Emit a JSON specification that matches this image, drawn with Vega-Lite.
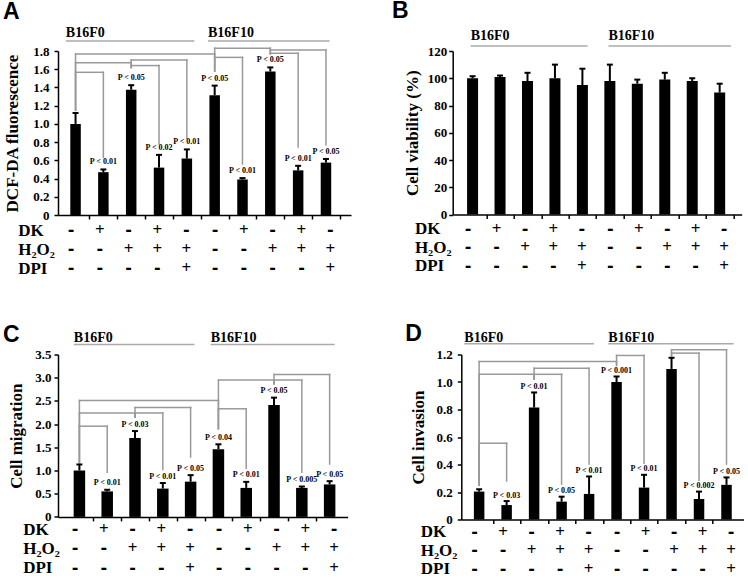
{
"$schema": "https://vega.github.io/schema/vega-lite/v6.json",
"background": "white",
"padding": {"left": 2, "top": 0, "right": 0, "bottom": 0},
"config": {
 "view": {"stroke": null},
 "axis": {"domainColor": "black", "domainWidth": 1.5, "tickColor": "black", "tickWidth": 1.5, "labelColor": "black", "titleColor": "black", "labelFont": "Liberation Serif", "titleFont": "Liberation Serif", "labelFontWeight": "bold", "titleFontWeight": "bold", "labelFontSize": 13, "titleFontSize": 17, "grid": false, "labelOverlap": false},
 "text": {"font": "Liberation Serif", "fontWeight": "bold", "color": "black", "opacity": 1}
},
"datasets": {
 "signs": [
  {"bar":1,"row":"DK","sign":"-"},{"bar":2,"row":"DK","sign":"+"},{"bar":3,"row":"DK","sign":"-"},{"bar":4,"row":"DK","sign":"+"},{"bar":5,"row":"DK","sign":"-"},{"bar":6,"row":"DK","sign":"-"},{"bar":7,"row":"DK","sign":"+"},{"bar":8,"row":"DK","sign":"-"},{"bar":9,"row":"DK","sign":"+"},{"bar":10,"row":"DK","sign":"-"},
  {"bar":1,"row":"H₂O₂","sign":"-"},{"bar":2,"row":"H₂O₂","sign":"-"},{"bar":3,"row":"H₂O₂","sign":"+"},{"bar":4,"row":"H₂O₂","sign":"+"},{"bar":5,"row":"H₂O₂","sign":"+"},{"bar":6,"row":"H₂O₂","sign":"-"},{"bar":7,"row":"H₂O₂","sign":"-"},{"bar":8,"row":"H₂O₂","sign":"+"},{"bar":9,"row":"H₂O₂","sign":"+"},{"bar":10,"row":"H₂O₂","sign":"+"},
  {"bar":1,"row":"DPI","sign":"-"},{"bar":2,"row":"DPI","sign":"-"},{"bar":3,"row":"DPI","sign":"-"},{"bar":4,"row":"DPI","sign":"-"},{"bar":5,"row":"DPI","sign":"+"},{"bar":6,"row":"DPI","sign":"-"},{"bar":7,"row":"DPI","sign":"-"},{"bar":8,"row":"DPI","sign":"-"},{"bar":9,"row":"DPI","sign":"-"},{"bar":10,"row":"DPI","sign":"+"}
 ],
 "barsA": [
  {"bar":1,"value":1.0,"err":1.12,"p":""},
  {"bar":2,"value":0.47,"err":0.5,"p":"P < 0.01"},
  {"bar":3,"value":1.375,"err":1.425,"p":"P < 0.05"},
  {"bar":4,"value":0.52,"err":0.66,"p":"P < 0.02"},
  {"bar":5,"value":0.62,"err":0.72,"p":"P < 0.01"},
  {"bar":6,"value":1.315,"err":1.42,"p":"P < 0.05"},
  {"bar":7,"value":0.39,"err":0.405,"p":"P < 0.01"},
  {"bar":8,"value":1.575,"err":1.62,"p":"P < 0.05"},
  {"bar":9,"value":0.49,"err":0.54,"p":"P < 0.01"},
  {"bar":10,"value":0.575,"err":0.615,"p":"P < 0.05"}
 ],
 "bracketsA": [
  {"from":1,"to":2,"h":1.566,"yFrom":1.15,"yTo":0.633},
  {"from":1,"to":3,"h":1.67,"yFrom":1.15,"yTo":1.62},
  {"from":1,"to":6,"h":1.767,"yFrom":1.15,"yTo":1.58},
  {"from":3,"to":4,"h":1.64,"yFrom":1.62,"yTo":0.78},
  {"from":3,"to":5,"h":1.7,"yFrom":1.62,"yTo":0.84},
  {"from":6,"to":7,"h":1.73,"yFrom":1.58,"yTo":0.56},
  {"from":6,"to":8,"h":1.83,"yFrom":1.58,"yTo":1.77},
  {"from":8,"to":9,"h":1.775,"yFrom":1.77,"yTo":0.745},
  {"from":8,"to":10,"h":1.81,"yFrom":1.77,"yTo":0.77}
 ],
 "groupsA": [{"label":"B16F0","x1":0.65,"x2":5.27},{"label":"B16F10","x1":5.76,"x2":10.13}],
 "barsB": [
  {"bar":1,"value":100,"err":101.5},
  {"bar":2,"value":101,"err":102},
  {"bar":3,"value":98,"err":104},
  {"bar":4,"value":100,"err":110},
  {"bar":5,"value":95,"err":107},
  {"bar":6,"value":98,"err":110},
  {"bar":7,"value":96,"err":99},
  {"bar":8,"value":99,"err":104},
  {"bar":9,"value":98,"err":100},
  {"bar":10,"value":89.5,"err":96}
 ],
 "groupsB": [{"label":"B16F0","x1":0.93,"x2":5.19},{"label":"B16F10","x1":5.95,"x2":10.41}],
 "barsC": [
  {"bar":1,"value":1.0,"err":1.13,"p":""},
  {"bar":2,"value":0.55,"err":0.585,"p":"P < 0.01"},
  {"bar":3,"value":1.7,"err":1.85,"p":"P < 0.03"},
  {"bar":4,"value":0.61,"err":0.73,"p":"P < 0.01"},
  {"bar":5,"value":0.76,"err":0.9,"p":"P < 0.05"},
  {"bar":6,"value":1.46,"err":1.565,"p":"P < 0.04"},
  {"bar":7,"value":0.625,"err":0.755,"p":"P < 0.01"},
  {"bar":8,"value":2.41,"err":2.57,"p":"P < 0.05"},
  {"bar":9,"value":0.625,"err":0.655,"p":"P < 0.005"},
  {"bar":10,"value":0.7,"err":0.77,"p":"P < 0.05"}
 ],
 "bracketsC": [
  {"from":1,"to":2,"h":1.955,"yFrom":1.17,"yTo":0.96},
  {"from":1,"to":3,"h":2.24,"yFrom":1.17,"yTo":2.15},
  {"from":3,"to":4,"h":2.24,"yFrom":2.15,"yTo":1.02},
  {"from":3,"to":5,"h":2.36,"yFrom":2.15,"yTo":1.29},
  {"from":1,"to":6,"h":2.51,"yFrom":1.17,"yTo":1.9},
  {"from":6,"to":7,"h":2.33,"yFrom":1.9,"yTo":1.05},
  {"from":6,"to":8,"h":2.95,"yFrom":1.9,"yTo":2.87},
  {"from":8,"to":9,"h":2.95,"yFrom":2.87,"yTo":0.96},
  {"from":8,"to":10,"h":3.07,"yFrom":2.87,"yTo":1.14}
 ],
 "groupsC": [{"label":"B16F0","x1":0.8,"x2":5.14},{"label":"B16F10","x1":5.72,"x2":10.18}],
 "barsD": [
  {"bar":1,"value":0.203,"err":0.22,"p":""},
  {"bar":2,"value":0.105,"err":0.134,"p":"P < 0.03"},
  {"bar":3,"value":0.814,"err":0.924,"p":"P < 0.01"},
  {"bar":4,"value":0.13,"err":0.166,"p":"P < 0.05"},
  {"bar":5,"value":0.186,"err":0.313,"p":"P < 0.01"},
  {"bar":6,"value":1.0,"err":1.04,"p":"P < 0.001"},
  {"bar":7,"value":0.232,"err":0.325,"p":"P < 0.01"},
  {"bar":8,"value":1.095,"err":1.176,"p":""},
  {"bar":9,"value":0.149,"err":0.203,"p":"P < 0.002"},
  {"bar":10,"value":0.252,"err":0.306,"p":"P < 0.05"}
 ],
 "bracketsD": [
  {"from":1,"to":2,"h":0.555,"yFrom":0.25,"yTo":0.281},
  {"from":1,"to":3,"h":1.056,"yFrom":0.25,"yTo":1.02},
  {"from":3,"to":4,"h":1.056,"yFrom":1.02,"yTo":0.257},
  {"from":3,"to":5,"h":1.1,"yFrom":1.02,"yTo":0.403},
  {"from":1,"to":6,"h":1.149,"yFrom":0.25,"yTo":1.12},
  {"from":6,"to":7,"h":1.193,"yFrom":1.12,"yTo":0.41},
  {"from":8,"to":9,"h":1.21,"yFrom":1.19,"yTo":0.285},
  {"from":8,"to":10,"h":1.234,"yFrom":1.19,"yTo":0.403}
 ],
 "groupsD": [{"label":"B16F0","x1":0.46,"x2":5.18},{"label":"B16F10","x1":5.7,"x2":10.26}]
},
"columns": 1,
"align": "none",
"bounds": "full",
"spacing": 44.5,
"concat": [
 {"hconcat": [
  {"title": {"text": "A", "anchor": "start", "frame": "group", "font": "Liberation Sans", "fontSize": 23, "fontWeight": "bold", "color": "black", "offset": 2, "dx": -55},
   "bounds": "flush",
   "spacing": 5.5,
   "vconcat": [
    {"width": 293, "height": 164,
     "layer": [
      {"data": {"name": "barsA"}, "mark": {"type": "bar", "color": "black", "size": 10.5, "opacity": 1},
       "encoding": {"x": {"field": "bar", "type": "quantitative", "scale": {"domain": [0.549, 10.72], "nice": false, "zero": false}, "axis": {"values": [1.5,2.5,3.5,4.5,5.5,6.5,7.5,8.5,9.5,10.5], "labels": false, "tickSize": 4, "title": null}},
                    "y": {"field": "value", "type": "quantitative", "scale": {"domain": [0, 1.8], "nice": false}, "axis": {"values": [0,0.2,0.4,0.6,0.8,1,1.2,1.4,1.6,1.8], "labelExpr": "datum.value == 0 ? '0' : format(datum.value, '.1f')", "labelOverlap": false, "labelPadding": 5, "tickSize": 4, "title": "DCF-DA fluorescence", "titlePadding": 11.75}}}},
      {"data": {"name": "bracketsA"}, "mark": {"type": "rule", "color": "#999", "strokeWidth": 1.5, "strokeCap": "square"},
       "encoding": {"x": {"field": "from", "type": "quantitative", "scale": {"domain": [0.549, 10.72], "nice": false, "zero": false}, "axis": {"values": [1.5,2.5,3.5,4.5,5.5,6.5,7.5,8.5,9.5,10.5], "labels": false, "tickSize": 4, "title": null}},
                    "y": {"field": "yFrom", "type": "quantitative", "scale": {"domain": [0, 1.8], "nice": false}, "axis": {"values": [0,0.2,0.4,0.6,0.8,1,1.2,1.4,1.6,1.8], "labelExpr": "datum.value == 0 ? '0' : format(datum.value, '.1f')", "labelOverlap": false, "labelPadding": 5, "tickSize": 4, "title": "DCF-DA fluorescence", "titlePadding": 11.75}}, "y2": {"field": "h"}}},
      {"data": {"name": "bracketsA"}, "mark": {"type": "rule", "color": "#999", "strokeWidth": 1.5, "strokeCap": "square"},
       "encoding": {"x": {"field": "from", "type": "quantitative", "scale": {"domain": [0.549, 10.72], "nice": false, "zero": false}, "axis": {"values": [1.5,2.5,3.5,4.5,5.5,6.5,7.5,8.5,9.5,10.5], "labels": false, "tickSize": 4, "title": null}}, "x2": {"field": "to"},
                    "y": {"field": "h", "type": "quantitative", "scale": {"domain": [0, 1.8], "nice": false}, "axis": {"values": [0,0.2,0.4,0.6,0.8,1,1.2,1.4,1.6,1.8], "labelExpr": "datum.value == 0 ? '0' : format(datum.value, '.1f')", "labelOverlap": false, "labelPadding": 5, "tickSize": 4, "title": "DCF-DA fluorescence", "titlePadding": 11.75}}}},
      {"data": {"name": "bracketsA"}, "mark": {"type": "rule", "color": "#999", "strokeWidth": 1.5, "strokeCap": "square"},
       "encoding": {"x": {"field": "to", "type": "quantitative", "scale": {"domain": [0.549, 10.72], "nice": false, "zero": false}, "axis": {"values": [1.5,2.5,3.5,4.5,5.5,6.5,7.5,8.5,9.5,10.5], "labels": false, "tickSize": 4, "title": null}},
                    "y": {"field": "h", "type": "quantitative", "scale": {"domain": [0, 1.8], "nice": false}, "axis": {"values": [0,0.2,0.4,0.6,0.8,1,1.2,1.4,1.6,1.8], "labelExpr": "datum.value == 0 ? '0' : format(datum.value, '.1f')", "labelOverlap": false, "labelPadding": 5, "tickSize": 4, "title": "DCF-DA fluorescence", "titlePadding": 11.75}}, "y2": {"field": "yTo"}}},
      {"data": {"name": "groupsA"}, "mark": {"type": "rule", "color": "#aaa", "strokeWidth": 1.5},
       "encoding": {"x": {"field": "x1", "type": "quantitative", "scale": {"domain": [0.549, 10.72], "nice": false, "zero": false}, "axis": {"values": [1.5,2.5,3.5,4.5,5.5,6.5,7.5,8.5,9.5,10.5], "labels": false, "tickSize": 4, "title": null}}, "x2": {"field": "x2"},
                    "y": {"datum": 1.91, "type": "quantitative", "scale": {"domain": [0, 1.8], "nice": false}, "axis": {"values": [0,0.2,0.4,0.6,0.8,1,1.2,1.4,1.6,1.8], "labelExpr": "datum.value == 0 ? '0' : format(datum.value, '.1f')", "labelOverlap": false, "labelPadding": 5, "tickSize": 4, "title": "DCF-DA fluorescence", "titlePadding": 11.75}}}},
      {"data": {"name": "groupsA"}, "mark": {"type": "text", "align": "left", "baseline": "alphabetic", "dy": -4.4, "fontSize": 14},
       "encoding": {"x": {"field": "x1", "type": "quantitative", "scale": {"domain": [0.549, 10.72], "nice": false, "zero": false}, "axis": {"values": [1.5,2.5,3.5,4.5,5.5,6.5,7.5,8.5,9.5,10.5], "labels": false, "tickSize": 4, "title": null}},
                    "y": {"datum": 1.91, "type": "quantitative", "scale": {"domain": [0, 1.8], "nice": false}, "axis": {"values": [0,0.2,0.4,0.6,0.8,1,1.2,1.4,1.6,1.8], "labelExpr": "datum.value == 0 ? '0' : format(datum.value, '.1f')", "labelOverlap": false, "labelPadding": 5, "tickSize": 4, "title": "DCF-DA fluorescence", "titlePadding": 11.75}}, "text": {"field": "label"}}},
      {"data": {"name": "barsA"}, "mark": {"type": "rule", "color": "black", "strokeWidth": 2},
       "encoding": {"x": {"field": "bar", "type": "quantitative", "scale": {"domain": [0.549, 10.72], "nice": false, "zero": false}, "axis": {"values": [1.5,2.5,3.5,4.5,5.5,6.5,7.5,8.5,9.5,10.5], "labels": false, "tickSize": 4, "title": null}},
                    "y": {"field": "value", "type": "quantitative", "scale": {"domain": [0, 1.8], "nice": false}, "axis": {"values": [0,0.2,0.4,0.6,0.8,1,1.2,1.4,1.6,1.8], "labelExpr": "datum.value == 0 ? '0' : format(datum.value, '.1f')", "labelOverlap": false, "labelPadding": 5, "tickSize": 4, "title": "DCF-DA fluorescence", "titlePadding": 11.75}}, "y2": {"field": "err"}}},
      {"data": {"name": "barsA"}, "mark": {"type": "tick", "orient": "horizontal", "color": "black", "size": 6, "thickness": 2, "opacity": 1},
       "encoding": {"x": {"field": "bar", "type": "quantitative", "scale": {"domain": [0.549, 10.72], "nice": false, "zero": false}, "axis": {"values": [1.5,2.5,3.5,4.5,5.5,6.5,7.5,8.5,9.5,10.5], "labels": false, "tickSize": 4, "title": null}},
                    "y": {"field": "err", "type": "quantitative", "scale": {"domain": [0, 1.8], "nice": false}, "axis": {"values": [0,0.2,0.4,0.6,0.8,1,1.2,1.4,1.6,1.8], "labelExpr": "datum.value == 0 ? '0' : format(datum.value, '.1f')", "labelOverlap": false, "labelPadding": 5, "tickSize": 4, "title": "DCF-DA fluorescence", "titlePadding": 11.75}}}},
      {"data": {"name": "barsA"}, "transform": [{"filter": "datum.p != ''"}], "mark": {"type": "text", "baseline": "alphabetic", "dy": -5, "fontSize": 8},
       "encoding": {"x": {"field": "bar", "type": "quantitative", "scale": {"domain": [0.549, 10.72], "nice": false, "zero": false}, "axis": {"values": [1.5,2.5,3.5,4.5,5.5,6.5,7.5,8.5,9.5,10.5], "labels": false, "tickSize": 4, "title": null}},
                    "y": {"field": "err", "type": "quantitative", "scale": {"domain": [0, 1.8], "nice": false}, "axis": {"values": [0,0.2,0.4,0.6,0.8,1,1.2,1.4,1.6,1.8], "labelExpr": "datum.value == 0 ? '0' : format(datum.value, '.1f')", "labelOverlap": false, "labelPadding": 5, "tickSize": 4, "title": "DCF-DA fluorescence", "titlePadding": 11.75}}, "text": {"field": "p"}}}
     ]},
    {"width": 293, "height": 57, "data": {"name": "signs"},
     "layer": [
      {"transform": [{"filter": "datum.sign == '+'"}], "mark": {"type": "text", "baseline": "middle", "fontSize": 17},
       "encoding": {"x": {"field": "bar", "type": "quantitative", "scale": {"domain": [0.549, 10.72], "nice": false, "zero": false}, "axis": null},
                    "y": {"field": "row", "type": "nominal", "sort": ["DK", "H₂O₂", "DPI"], "axis": {"title": null, "domain": false, "ticks": false, "tickSize": 0, "labelAlign": "left", "labelBaseline": "middle", "labelPadding": 40.3, "labelFontSize": 17}},
                    "text": {"field": "sign"}}},
      {"transform": [{"filter": "datum.sign == '-'"}], "mark": {"type": "text", "baseline": "middle", "fontSize": 16, "font": "DejaVu Sans", "fontWeight": "bold"},
       "encoding": {"x": {"field": "bar", "type": "quantitative", "scale": {"domain": [0.549, 10.72], "nice": false, "zero": false}, "axis": null},
                    "y": {"field": "row", "type": "nominal", "sort": ["DK", "H₂O₂", "DPI"], "axis": {"title": null, "domain": false, "ticks": false, "tickSize": 0, "labelAlign": "left", "labelBaseline": "middle", "labelPadding": 40.3, "labelFontSize": 17}},
                    "text": {"field": "sign"}}}
     ]}
   ]},
  {"title": {"text": "B", "anchor": "start", "frame": "group", "font": "Liberation Sans", "fontSize": 23, "fontWeight": "bold", "color": "black", "offset": 5.5, "dx": -60.6},
   "bounds": "flush",
   "spacing": 4.25,
   "vconcat": [
    {"width": 289, "height": 163.5,
     "layer": [
      {"data": {"name": "barsB"}, "mark": {"type": "bar", "color": "black", "size": 11, "opacity": 1},
       "encoding": {"x": {"field": "bar", "type": "quantitative", "scale": {"domain": [0.458, 10.62], "nice": false, "zero": false}, "axis": {"values": [1.5,2.5,3.5,4.5,5.5,6.5,7.5,8.5,9.5,10.5], "labels": false, "tickSize": 4, "title": null}},
                    "y": {"field": "value", "type": "quantitative", "scale": {"domain": [0, 120], "nice": false}, "axis": {"values": [0,20,40,60,80,100,120], "labelOverlap": false, "labelPadding": 2, "tickSize": 4, "title": "Cell viability (%)", "titlePadding": 5.5}}}},
      {"data": {"name": "groupsB"}, "mark": {"type": "rule", "color": "#aaa", "strokeWidth": 1.5},
       "encoding": {"x": {"field": "x1", "type": "quantitative", "scale": {"domain": [0.458, 10.62], "nice": false, "zero": false}, "axis": {"values": [1.5,2.5,3.5,4.5,5.5,6.5,7.5,8.5,9.5,10.5], "labels": false, "tickSize": 4, "title": null}}, "x2": {"field": "x2"},
                    "y": {"datum": 123.7, "type": "quantitative", "scale": {"domain": [0, 120], "nice": false}, "axis": {"values": [0,20,40,60,80,100,120], "labelOverlap": false, "labelPadding": 2, "tickSize": 4, "title": "Cell viability (%)", "titlePadding": 5.5}}}},
      {"data": {"name": "groupsB"}, "mark": {"type": "text", "align": "left", "baseline": "alphabetic", "dy": -6, "fontSize": 14},
       "encoding": {"x": {"field": "x1", "type": "quantitative", "scale": {"domain": [0.458, 10.62], "nice": false, "zero": false}, "axis": {"values": [1.5,2.5,3.5,4.5,5.5,6.5,7.5,8.5,9.5,10.5], "labels": false, "tickSize": 4, "title": null}},
                    "y": {"datum": 123.7, "type": "quantitative", "scale": {"domain": [0, 120], "nice": false}, "axis": {"values": [0,20,40,60,80,100,120], "labelOverlap": false, "labelPadding": 2, "tickSize": 4, "title": "Cell viability (%)", "titlePadding": 5.5}}, "text": {"field": "label"}}},
      {"data": {"name": "barsB"}, "mark": {"type": "rule", "color": "black", "strokeWidth": 2},
       "encoding": {"x": {"field": "bar", "type": "quantitative", "scale": {"domain": [0.458, 10.62], "nice": false, "zero": false}, "axis": {"values": [1.5,2.5,3.5,4.5,5.5,6.5,7.5,8.5,9.5,10.5], "labels": false, "tickSize": 4, "title": null}},
                    "y": {"field": "value", "type": "quantitative", "scale": {"domain": [0, 120], "nice": false}, "axis": {"values": [0,20,40,60,80,100,120], "labelOverlap": false, "labelPadding": 2, "tickSize": 4, "title": "Cell viability (%)", "titlePadding": 5.5}}, "y2": {"field": "err"}}},
      {"data": {"name": "barsB"}, "mark": {"type": "tick", "orient": "horizontal", "color": "black", "size": 6, "thickness": 2, "opacity": 1},
       "encoding": {"x": {"field": "bar", "type": "quantitative", "scale": {"domain": [0.458, 10.62], "nice": false, "zero": false}, "axis": {"values": [1.5,2.5,3.5,4.5,5.5,6.5,7.5,8.5,9.5,10.5], "labels": false, "tickSize": 4, "title": null}},
                    "y": {"field": "err", "type": "quantitative", "scale": {"domain": [0, 120], "nice": false}, "axis": {"values": [0,20,40,60,80,100,120], "labelOverlap": false, "labelPadding": 2, "tickSize": 4, "title": "Cell viability (%)", "titlePadding": 5.5}}}}
     ]},
    {"width": 289, "height": 55.5, "data": {"name": "signs"},
     "layer": [
      {"transform": [{"filter": "datum.sign == '+'"}], "mark": {"type": "text", "baseline": "middle", "fontSize": 17},
       "encoding": {"x": {"field": "bar", "type": "quantitative", "scale": {"domain": [0.458, 10.62], "nice": false, "zero": false}, "axis": null},
                    "y": {"field": "row", "type": "nominal", "sort": ["DK", "H₂O₂", "DPI"], "axis": {"title": null, "domain": false, "ticks": false, "tickSize": 0, "labelAlign": "left", "labelBaseline": "middle", "labelPadding": 38.3, "labelFontSize": 17}},
                    "text": {"field": "sign"}}},
      {"transform": [{"filter": "datum.sign == '-'"}], "mark": {"type": "text", "baseline": "middle", "fontSize": 16, "font": "DejaVu Sans", "fontWeight": "bold"},
       "encoding": {"x": {"field": "bar", "type": "quantitative", "scale": {"domain": [0.458, 10.62], "nice": false, "zero": false}, "axis": null},
                    "y": {"field": "row", "type": "nominal", "sort": ["DK", "H₂O₂", "DPI"], "axis": {"title": null, "domain": false, "ticks": false, "tickSize": 0, "labelAlign": "left", "labelBaseline": "middle", "labelPadding": 38.3, "labelFontSize": 17}},
                    "text": {"field": "sign"}}}
     ]}
   ]}
 ], "spacing": 40.7},
 {"hconcat": [
  {"title": {"text": "C", "anchor": "start", "frame": "group", "font": "Liberation Sans", "fontSize": 23, "fontWeight": "bold", "color": "black", "offset": 2, "dx": -55, "dy": 17.7},
   "bounds": "flush",
   "spacing": 1.9,
   "vconcat": [
    {"width": 289.7, "height": 162.4,
     "layer": [
      {"data": {"name": "barsC"}, "mark": {"type": "bar", "color": "black", "size": 11.5, "opacity": 1},
       "encoding": {"x": {"field": "bar", "type": "quantitative", "scale": {"domain": [0.41, 10.47], "nice": false, "zero": false}, "axis": {"values": [1.5,2.5,3.5,4.5,5.5,6.5,7.5,8.5,9.5], "labels": false, "tickSize": 4, "title": null}},
                    "y": {"field": "value", "type": "quantitative", "scale": {"domain": [0, 3.5], "nice": false}, "axis": {"values": [0,0.5,1,1.5,2,2.5,3,3.5], "labelExpr": "datum.value == 0 ? '0' : format(datum.value, '.1f')", "labelOverlap": false, "labelPadding": 3, "tickSize": 4, "title": "Cell migration", "titlePadding": 9.75}}}},
      {"data": {"name": "bracketsC"}, "mark": {"type": "rule", "color": "#999", "strokeWidth": 1.5, "strokeCap": "square"},
       "encoding": {"x": {"field": "from", "type": "quantitative", "scale": {"domain": [0.41, 10.47], "nice": false, "zero": false}, "axis": {"values": [1.5,2.5,3.5,4.5,5.5,6.5,7.5,8.5,9.5], "labels": false, "tickSize": 4, "title": null}},
                    "y": {"field": "yFrom", "type": "quantitative", "scale": {"domain": [0, 3.5], "nice": false}, "axis": {"values": [0,0.5,1,1.5,2,2.5,3,3.5], "labelExpr": "datum.value == 0 ? '0' : format(datum.value, '.1f')", "labelOverlap": false, "labelPadding": 3, "tickSize": 4, "title": "Cell migration", "titlePadding": 9.75}}, "y2": {"field": "h"}}},
      {"data": {"name": "bracketsC"}, "mark": {"type": "rule", "color": "#999", "strokeWidth": 1.5, "strokeCap": "square"},
       "encoding": {"x": {"field": "from", "type": "quantitative", "scale": {"domain": [0.41, 10.47], "nice": false, "zero": false}, "axis": {"values": [1.5,2.5,3.5,4.5,5.5,6.5,7.5,8.5,9.5], "labels": false, "tickSize": 4, "title": null}}, "x2": {"field": "to"},
                    "y": {"field": "h", "type": "quantitative", "scale": {"domain": [0, 3.5], "nice": false}, "axis": {"values": [0,0.5,1,1.5,2,2.5,3,3.5], "labelExpr": "datum.value == 0 ? '0' : format(datum.value, '.1f')", "labelOverlap": false, "labelPadding": 3, "tickSize": 4, "title": "Cell migration", "titlePadding": 9.75}}}},
      {"data": {"name": "bracketsC"}, "mark": {"type": "rule", "color": "#999", "strokeWidth": 1.5, "strokeCap": "square"},
       "encoding": {"x": {"field": "to", "type": "quantitative", "scale": {"domain": [0.41, 10.47], "nice": false, "zero": false}, "axis": {"values": [1.5,2.5,3.5,4.5,5.5,6.5,7.5,8.5,9.5], "labels": false, "tickSize": 4, "title": null}},
                    "y": {"field": "h", "type": "quantitative", "scale": {"domain": [0, 3.5], "nice": false}, "axis": {"values": [0,0.5,1,1.5,2,2.5,3,3.5], "labelExpr": "datum.value == 0 ? '0' : format(datum.value, '.1f')", "labelOverlap": false, "labelPadding": 3, "tickSize": 4, "title": "Cell migration", "titlePadding": 9.75}}, "y2": {"field": "yTo"}}},
      {"data": {"name": "groupsC"}, "mark": {"type": "rule", "color": "#aaa", "strokeWidth": 1.5},
       "encoding": {"x": {"field": "x1", "type": "quantitative", "scale": {"domain": [0.41, 10.47], "nice": false, "zero": false}, "axis": {"values": [1.5,2.5,3.5,4.5,5.5,6.5,7.5,8.5,9.5], "labels": false, "tickSize": 4, "title": null}}, "x2": {"field": "x2"},
                    "y": {"datum": 3.716, "type": "quantitative", "scale": {"domain": [0, 3.5], "nice": false}, "axis": {"values": [0,0.5,1,1.5,2,2.5,3,3.5], "labelExpr": "datum.value == 0 ? '0' : format(datum.value, '.1f')", "labelOverlap": false, "labelPadding": 3, "tickSize": 4, "title": "Cell migration", "titlePadding": 9.75}}}},
      {"data": {"name": "groupsC"}, "mark": {"type": "text", "align": "left", "baseline": "alphabetic", "dy": -2, "fontSize": 14},
       "encoding": {"x": {"field": "x1", "type": "quantitative", "scale": {"domain": [0.41, 10.47], "nice": false, "zero": false}, "axis": {"values": [1.5,2.5,3.5,4.5,5.5,6.5,7.5,8.5,9.5], "labels": false, "tickSize": 4, "title": null}},
                    "y": {"datum": 3.716, "type": "quantitative", "scale": {"domain": [0, 3.5], "nice": false}, "axis": {"values": [0,0.5,1,1.5,2,2.5,3,3.5], "labelExpr": "datum.value == 0 ? '0' : format(datum.value, '.1f')", "labelOverlap": false, "labelPadding": 3, "tickSize": 4, "title": "Cell migration", "titlePadding": 9.75}}, "text": {"field": "label"}}},
      {"data": {"name": "barsC"}, "mark": {"type": "rule", "color": "black", "strokeWidth": 2},
       "encoding": {"x": {"field": "bar", "type": "quantitative", "scale": {"domain": [0.41, 10.47], "nice": false, "zero": false}, "axis": {"values": [1.5,2.5,3.5,4.5,5.5,6.5,7.5,8.5,9.5], "labels": false, "tickSize": 4, "title": null}},
                    "y": {"field": "value", "type": "quantitative", "scale": {"domain": [0, 3.5], "nice": false}, "axis": {"values": [0,0.5,1,1.5,2,2.5,3,3.5], "labelExpr": "datum.value == 0 ? '0' : format(datum.value, '.1f')", "labelOverlap": false, "labelPadding": 3, "tickSize": 4, "title": "Cell migration", "titlePadding": 9.75}}, "y2": {"field": "err"}}},
      {"data": {"name": "barsC"}, "mark": {"type": "tick", "orient": "horizontal", "color": "black", "size": 6, "thickness": 2, "opacity": 1},
       "encoding": {"x": {"field": "bar", "type": "quantitative", "scale": {"domain": [0.41, 10.47], "nice": false, "zero": false}, "axis": {"values": [1.5,2.5,3.5,4.5,5.5,6.5,7.5,8.5,9.5], "labels": false, "tickSize": 4, "title": null}},
                    "y": {"field": "err", "type": "quantitative", "scale": {"domain": [0, 3.5], "nice": false}, "axis": {"values": [0,0.5,1,1.5,2,2.5,3,3.5], "labelExpr": "datum.value == 0 ? '0' : format(datum.value, '.1f')", "labelOverlap": false, "labelPadding": 3, "tickSize": 4, "title": "Cell migration", "titlePadding": 9.75}}}},
      {"data": {"name": "barsC"}, "transform": [{"filter": "datum.p != ''"}], "mark": {"type": "text", "baseline": "alphabetic", "dy": -4.5, "fontSize": 8},
       "encoding": {"x": {"field": "bar", "type": "quantitative", "scale": {"domain": [0.41, 10.47], "nice": false, "zero": false}, "axis": {"values": [1.5,2.5,3.5,4.5,5.5,6.5,7.5,8.5,9.5], "labels": false, "tickSize": 4, "title": null}},
                    "y": {"field": "err", "type": "quantitative", "scale": {"domain": [0, 3.5], "nice": false}, "axis": {"values": [0,0.5,1,1.5,2,2.5,3,3.5], "labelExpr": "datum.value == 0 ? '0' : format(datum.value, '.1f')", "labelOverlap": false, "labelPadding": 3, "tickSize": 4, "title": "Cell migration", "titlePadding": 9.75}}, "text": {"field": "p"}}}
     ]},
    {"width": 289.7, "height": 58, "data": {"name": "signs"},
     "layer": [
      {"transform": [{"filter": "datum.sign == '+'"}], "mark": {"type": "text", "baseline": "middle", "fontSize": 17},
       "encoding": {"x": {"field": "bar", "type": "quantitative", "scale": {"domain": [0.41, 10.47], "nice": false, "zero": false}, "axis": null},
                    "y": {"field": "row", "type": "nominal", "sort": ["DK", "H₂O₂", "DPI"], "axis": {"title": null, "domain": false, "ticks": false, "tickSize": 0, "labelAlign": "left", "labelBaseline": "middle", "labelPadding": 35.3, "labelFontSize": 17}},
                    "text": {"field": "sign"}}},
      {"transform": [{"filter": "datum.sign == '-'"}], "mark": {"type": "text", "baseline": "middle", "fontSize": 16, "font": "DejaVu Sans", "fontWeight": "bold"},
       "encoding": {"x": {"field": "bar", "type": "quantitative", "scale": {"domain": [0.41, 10.47], "nice": false, "zero": false}, "axis": null},
                    "y": {"field": "row", "type": "nominal", "sort": ["DK", "H₂O₂", "DPI"], "axis": {"title": null, "domain": false, "ticks": false, "tickSize": 0, "labelAlign": "left", "labelBaseline": "middle", "labelPadding": 35.3, "labelFontSize": 17}},
                    "text": {"field": "sign"}}}
     ]}
   ]},
  {"title": {"text": "D", "anchor": "start", "frame": "group", "font": "Liberation Sans", "fontSize": 23, "fontWeight": "bold", "color": "black", "offset": 2, "dx": -56, "dy": 17.7},
   "bounds": "flush",
   "spacing": 3.15,
   "vconcat": [
    {"width": 282.3, "height": 165,
     "layer": [
      {"data": {"name": "barsD"}, "mark": {"type": "bar", "color": "black", "size": 10.5, "opacity": 1},
       "encoding": {"x": {"field": "bar", "type": "quantitative", "scale": {"domain": [0.533, 10.44], "nice": false, "zero": false}, "axis": {"values": [1.5,2.5,3.5,4.5,5.5,6.5,7.5,8.5,9.5], "labels": false, "tickSize": 4, "title": null}},
                    "y": {"field": "value", "type": "quantitative", "scale": {"domain": [0, 1.2], "nice": false}, "axis": {"values": [0,0.2,0.4,0.6,0.8,1,1.2], "labelExpr": "datum.value == 0 ? '0' : format(datum.value, '.1f')", "labelOverlap": false, "labelPadding": 5, "tickSize": 4, "title": "Cell invasion", "titlePadding": 8.5}}}},
      {"data": {"name": "bracketsD"}, "mark": {"type": "rule", "color": "#999", "strokeWidth": 1.5, "strokeCap": "square"},
       "encoding": {"x": {"field": "from", "type": "quantitative", "scale": {"domain": [0.533, 10.44], "nice": false, "zero": false}, "axis": {"values": [1.5,2.5,3.5,4.5,5.5,6.5,7.5,8.5,9.5], "labels": false, "tickSize": 4, "title": null}},
                    "y": {"field": "yFrom", "type": "quantitative", "scale": {"domain": [0, 1.2], "nice": false}, "axis": {"values": [0,0.2,0.4,0.6,0.8,1,1.2], "labelExpr": "datum.value == 0 ? '0' : format(datum.value, '.1f')", "labelOverlap": false, "labelPadding": 5, "tickSize": 4, "title": "Cell invasion", "titlePadding": 8.5}}, "y2": {"field": "h"}}},
      {"data": {"name": "bracketsD"}, "mark": {"type": "rule", "color": "#999", "strokeWidth": 1.5, "strokeCap": "square"},
       "encoding": {"x": {"field": "from", "type": "quantitative", "scale": {"domain": [0.533, 10.44], "nice": false, "zero": false}, "axis": {"values": [1.5,2.5,3.5,4.5,5.5,6.5,7.5,8.5,9.5], "labels": false, "tickSize": 4, "title": null}}, "x2": {"field": "to"},
                    "y": {"field": "h", "type": "quantitative", "scale": {"domain": [0, 1.2], "nice": false}, "axis": {"values": [0,0.2,0.4,0.6,0.8,1,1.2], "labelExpr": "datum.value == 0 ? '0' : format(datum.value, '.1f')", "labelOverlap": false, "labelPadding": 5, "tickSize": 4, "title": "Cell invasion", "titlePadding": 8.5}}}},
      {"data": {"name": "bracketsD"}, "mark": {"type": "rule", "color": "#999", "strokeWidth": 1.5, "strokeCap": "square"},
       "encoding": {"x": {"field": "to", "type": "quantitative", "scale": {"domain": [0.533, 10.44], "nice": false, "zero": false}, "axis": {"values": [1.5,2.5,3.5,4.5,5.5,6.5,7.5,8.5,9.5], "labels": false, "tickSize": 4, "title": null}},
                    "y": {"field": "h", "type": "quantitative", "scale": {"domain": [0, 1.2], "nice": false}, "axis": {"values": [0,0.2,0.4,0.6,0.8,1,1.2], "labelExpr": "datum.value == 0 ? '0' : format(datum.value, '.1f')", "labelOverlap": false, "labelPadding": 5, "tickSize": 4, "title": "Cell invasion", "titlePadding": 8.5}}, "y2": {"field": "yTo"}}},
      {"data": {"name": "groupsD"}, "mark": {"type": "rule", "color": "#aaa", "strokeWidth": 1.5},
       "encoding": {"x": {"field": "x1", "type": "quantitative", "scale": {"domain": [0.533, 10.44], "nice": false, "zero": false}, "axis": {"values": [1.5,2.5,3.5,4.5,5.5,6.5,7.5,8.5,9.5], "labels": false, "tickSize": 4, "title": null}}, "x2": {"field": "x2"},
                    "y": {"datum": 1.278, "type": "quantitative", "scale": {"domain": [0, 1.2], "nice": false}, "axis": {"values": [0,0.2,0.4,0.6,0.8,1,1.2], "labelExpr": "datum.value == 0 ? '0' : format(datum.value, '.1f')", "labelOverlap": false, "labelPadding": 5, "tickSize": 4, "title": "Cell invasion", "titlePadding": 8.5}}}},
      {"data": {"name": "groupsD"}, "mark": {"type": "text", "align": "left", "baseline": "alphabetic", "dy": -2, "fontSize": 14},
       "encoding": {"x": {"field": "x1", "type": "quantitative", "scale": {"domain": [0.533, 10.44], "nice": false, "zero": false}, "axis": {"values": [1.5,2.5,3.5,4.5,5.5,6.5,7.5,8.5,9.5], "labels": false, "tickSize": 4, "title": null}},
                    "y": {"datum": 1.278, "type": "quantitative", "scale": {"domain": [0, 1.2], "nice": false}, "axis": {"values": [0,0.2,0.4,0.6,0.8,1,1.2], "labelExpr": "datum.value == 0 ? '0' : format(datum.value, '.1f')", "labelOverlap": false, "labelPadding": 5, "tickSize": 4, "title": "Cell invasion", "titlePadding": 8.5}}, "text": {"field": "label"}}},
      {"data": {"name": "barsD"}, "mark": {"type": "rule", "color": "black", "strokeWidth": 2},
       "encoding": {"x": {"field": "bar", "type": "quantitative", "scale": {"domain": [0.533, 10.44], "nice": false, "zero": false}, "axis": {"values": [1.5,2.5,3.5,4.5,5.5,6.5,7.5,8.5,9.5], "labels": false, "tickSize": 4, "title": null}},
                    "y": {"field": "value", "type": "quantitative", "scale": {"domain": [0, 1.2], "nice": false}, "axis": {"values": [0,0.2,0.4,0.6,0.8,1,1.2], "labelExpr": "datum.value == 0 ? '0' : format(datum.value, '.1f')", "labelOverlap": false, "labelPadding": 5, "tickSize": 4, "title": "Cell invasion", "titlePadding": 8.5}}, "y2": {"field": "err"}}},
      {"data": {"name": "barsD"}, "mark": {"type": "tick", "orient": "horizontal", "color": "black", "size": 6, "thickness": 2, "opacity": 1},
       "encoding": {"x": {"field": "bar", "type": "quantitative", "scale": {"domain": [0.533, 10.44], "nice": false, "zero": false}, "axis": {"values": [1.5,2.5,3.5,4.5,5.5,6.5,7.5,8.5,9.5], "labels": false, "tickSize": 4, "title": null}},
                    "y": {"field": "err", "type": "quantitative", "scale": {"domain": [0, 1.2], "nice": false}, "axis": {"values": [0,0.2,0.4,0.6,0.8,1,1.2], "labelExpr": "datum.value == 0 ? '0' : format(datum.value, '.1f')", "labelOverlap": false, "labelPadding": 5, "tickSize": 4, "title": "Cell invasion", "titlePadding": 8.5}}}},
      {"data": {"name": "barsD"}, "transform": [{"filter": "datum.p != ''"}], "mark": {"type": "text", "baseline": "alphabetic", "dy": -3.5, "fontSize": 8},
       "encoding": {"x": {"field": "bar", "type": "quantitative", "scale": {"domain": [0.533, 10.44], "nice": false, "zero": false}, "axis": {"values": [1.5,2.5,3.5,4.5,5.5,6.5,7.5,8.5,9.5], "labels": false, "tickSize": 4, "title": null}},
                    "y": {"field": "err", "type": "quantitative", "scale": {"domain": [0, 1.2], "nice": false}, "axis": {"values": [0,0.2,0.4,0.6,0.8,1,1.2], "labelExpr": "datum.value == 0 ? '0' : format(datum.value, '.1f')", "labelOverlap": false, "labelPadding": 5, "tickSize": 4, "title": "Cell invasion", "titlePadding": 8.5}}, "text": {"field": "p"}}}
     ]},
    {"width": 282.3, "height": 55.5, "data": {"name": "signs"},
     "layer": [
      {"transform": [{"filter": "datum.sign == '+'"}], "mark": {"type": "text", "baseline": "middle", "fontSize": 17},
       "encoding": {"x": {"field": "bar", "type": "quantitative", "scale": {"domain": [0.533, 10.44], "nice": false, "zero": false}, "axis": null},
                    "y": {"field": "row", "type": "nominal", "sort": ["DK", "H₂O₂", "DPI"], "axis": {"title": null, "domain": false, "ticks": false, "tickSize": 0, "labelAlign": "left", "labelBaseline": "middle", "labelPadding": 41, "labelFontSize": 17}},
                    "text": {"field": "sign"}}},
      {"transform": [{"filter": "datum.sign == '-'"}], "mark": {"type": "text", "baseline": "middle", "fontSize": 16, "font": "DejaVu Sans", "fontWeight": "bold"},
       "encoding": {"x": {"field": "bar", "type": "quantitative", "scale": {"domain": [0.533, 10.44], "nice": false, "zero": false}, "axis": null},
                    "y": {"field": "row", "type": "nominal", "sort": ["DK", "H₂O₂", "DPI"], "axis": {"title": null, "domain": false, "ticks": false, "tickSize": 0, "labelAlign": "left", "labelBaseline": "middle", "labelPadding": 41, "labelFontSize": 17}},
                    "text": {"field": "sign"}}}
     ]}
   ]}
 ], "spacing": 57.3}
]
}
